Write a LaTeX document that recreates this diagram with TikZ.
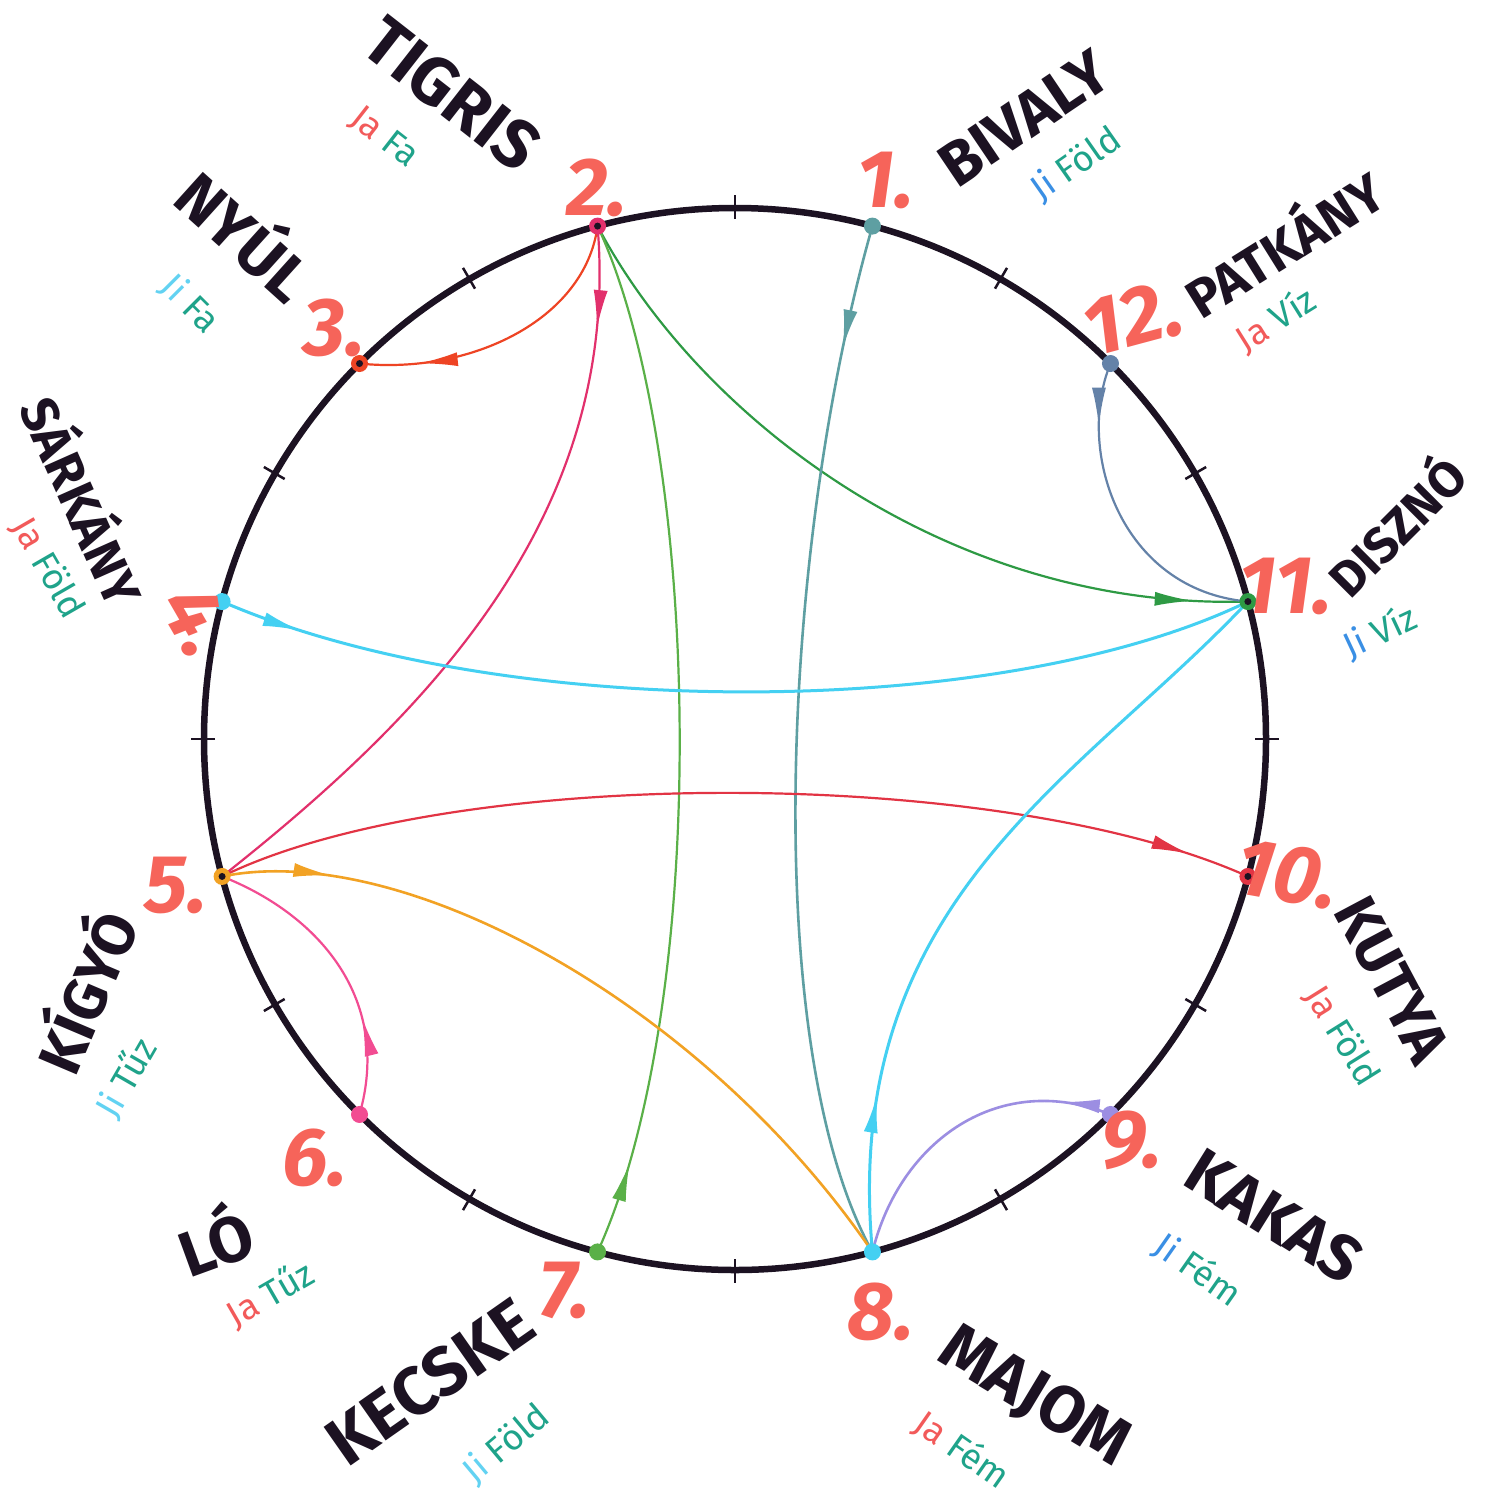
\documentclass[tikz,border=0pt]{standalone}
\usepackage{fontspec}
\usetikzlibrary{arrows.meta,decorations.markings}
\newfontfamily\namefont{Fira Sans}
\newfontfamily\numfont{Fira Sans}
\newfontfamily\subfont{Fira Sans}
\definecolor{ink}{HTML}{1C1222}
\definecolor{numcol}{HTML}{F6645A}
\definecolor{jiblue}{HTML}{3A8FE4}
\definecolor{jicyan}{HTML}{62D2F2}
\definecolor{jared}{HTML}{F25A5A}
\definecolor{elemcol}{HTML}{1FA38A}
\definecolor{cA}{HTML}{EE4424}
\definecolor{cB}{HTML}{E2306C}
\definecolor{cC}{HTML}{2E9A44}
\definecolor{cD}{HTML}{5AB048}
\definecolor{cE}{HTML}{5E9FA2}
\definecolor{cF}{HTML}{6482A8}
\definecolor{cG}{HTML}{44D0F2}
\definecolor{cH}{HTML}{E23444}
\definecolor{cI}{HTML}{F2A224}
\definecolor{cJ}{HTML}{F24C92}
\definecolor{cK}{HTML}{9C8EE2}
\tikzset{
  link/.style={line width=2.2pt},
  arrowat/.style={postaction={decorate,decoration={markings,
     mark=at position #1 with {\arrow{Latex[length=38pt,width=14pt]}}}}},
  animal/.style={font=\namefont\bfseries\fontsize{#1}{#1}\selectfont, text=ink, inner sep=0pt},
  animal/.default=66,
  numlbl/.style={font=\numfont\bfseries\itshape\fontsize{82}{82}\selectfont, text=numcol, inner sep=0pt},
  elem/.style={font=\subfont\fontsize{36}{36}\selectfont, inner sep=0pt},
}
\newcommand\Ji{\textcolor{jiblue}{Ji}}
\newcommand\Jc{\textcolor{jicyan}{Ji}}
\newcommand\Ja{\textcolor{jared}{Ja}}
\newcommand\El[1]{\textcolor{elemcol}{#1}}
\begin{document}
\begin{tikzpicture}[x=1pt,y=-1pt]
\useasboundingbox (0,0) rectangle (1485,1499);
\fill[white] (0,0) rectangle (1485,1499);
\coordinate (c) at (735,739);
% points on the ring
\foreach \i/\a in {1/75,2/105,3/135,4/165,5/195,6/225,7/255,8/285,9/315,10/345,11/15,12/45}
  \path (c) ++(-\a:531) coordinate (p\i);
% ring and ticks
\draw[line width=6.5pt, ink] (c) circle (531);
\foreach \a in {0,30,...,330}
  \draw[line width=2.5pt, ink] (c) ++(-\a:520) -- ++(-\a:24);
% connectors
\draw[link, cA, arrowat=0.8] (p2) .. controls (585,320) and (470,375) .. (p3);
\draw[link, cB, arrowat=0.13] (p2) .. controls (622,520) and (420,720) .. (p5);
\draw[link, cC, arrowat=0.93] (p2) .. controls (700,420) and (950,610) .. (p11);
\draw[link, cD, arrowat=0.09] (p7) .. controls (712,1000) and (702,450) .. (p2);
\draw[link, cE, line width=2.6pt, arrowat=0.12] (p1) .. controls (780,550) and (760,1050) .. (p8);
\draw[link, cF, arrowat=0.2] (p12) .. controls (1075,450) and (1120,590) .. (p11);
\draw[link, cG, line width=3pt, arrowat=0.08] (p4) .. controls (500,722) and (1000,722) .. (p11);
\draw[link, cH, arrowat=0.94] (p5) .. controls (450,765) and (1000,765) .. (p10);
\draw[link, cI, line width=2.6pt, arrowat=0.14] (p5) .. controls (400,840) and (700,1000) .. (p8);
\draw[link, cJ, arrowat=0.32] (p6) .. controls (392,1000) and (320,915) .. (p5);
\draw[link, cG, line width=3pt, arrowat=0.2] (p8) .. controls (840,900) and (1080,780) .. (p11);
\draw[link, cK, line width=2.6pt, arrowat=0.16] (p9) .. controls (1000,1070) and (900,1140) .. (p8);
% point dots
\foreach \i/\col in {1/cE,2/cB,3/cA,4/cG,5/cI,6/cJ,7/cD,8/cG,9/cK,10/cH,11/cC,12/cF}
  \fill[\col] (p\i) circle (8.5);
\foreach \i in {2,3,5,10,11}
  \fill[ink] (p\i) circle (3.5);
% numbers
\node[numlbl] (n1) at (886,180) {1.};
\node[numlbl] (n2) at (597,188) {2.};
\node[numlbl] (n3) at (334,328) {3.};
\node[numlbl, rotate=-60] (n4) at (198,620) {4.};
\node[numlbl] (n5) at (176,885) {5.};
\node[numlbl] (n6) at (315,1158) {6.};
\node[numlbl] (n7) at (565,1290) {7.};
\node[numlbl] (n8) at (881,1312) {8.};
\node[numlbl] (n9) at (1132,1140) {9.};
\node[numlbl, rotate=-10] (n10) at (1288,874) {10.};
\node[numlbl] (n11) at (1286,586) {11.};
\node[numlbl, rotate=15] (n12) at (1133,318) {12.};
% animal names
\node[animal=62, rotate=34] (a1) at (1024,118) {BIVALY};
\node[animal=68, rotate=-38] (a2) at (452,94) {TIGRIS};
\node[animal=64, rotate=-42] (a3) at (248,232) {NYÚL};
\node[animal=52, rotate=-66] (a4) at (86,500) {SÁRKÁNY};
\node[animal=60, rotate=67] (a5) at (82,990) {KÍGYÓ};
\node[animal=64, rotate=20] (a6) at (214,1238) {LÓ};
\node[animal=68, rotate=35] (a7) at (430,1382) {KECSKE};
\node[animal=66, rotate=-31] (a8) at (1034,1398) {MAJOM};
\node[animal=64, rotate=-32] (a9) at (1274,1216) {KAKAS};
\node[animal=60, rotate=-62] (a10) at (1392,980) {KUTYA};
\node[animal=50, rotate=45] (a11) at (1394,524) {DISZNÓ};
\node[animal=54, rotate=32] (a12) at (1282,240) {PATKÁNY};
% yin/yang and element
\node[elem, rotate=35] (e1) at (1076,164) {\Ji\ \El{Föld}};
\node[elem, rotate=-38] (e2) at (384,138) {\Ja\ \El{Fa}};
\node[elem, rotate=-45] (e3) at (190,304) {\Jc\ \El{Fa}};
\node[elem, rotate=-60] (e4) at (48,568) {\Ja\ \El{Föld}};
\node[elem, rotate=60] (e5) at (126,1078) {\Jc\ \El{Tűz}};
\node[elem, rotate=30] (e6) at (270,1294) {\Ja\ \El{Tűz}};
\node[elem, rotate=40] (e7) at (506,1444) {\Jc\ \El{Föld}};
\node[elem, rotate=-35] (e8) at (962,1450) {\Ja\ \El{Fém}};
\node[elem, rotate=-35] (e9) at (1198,1270) {\Ji\ \El{Fém}};
\node[elem, rotate=-58] (e10) at (1342,1036) {\Ja\ \El{Föld}};
\node[elem, rotate=25] (e11) at (1380,632) {\Ji\ \El{Víz}};
\node[elem, rotate=32] (e12) at (1276,320) {\Ja\ \El{Víz}};
\end{tikzpicture}
\end{document}
